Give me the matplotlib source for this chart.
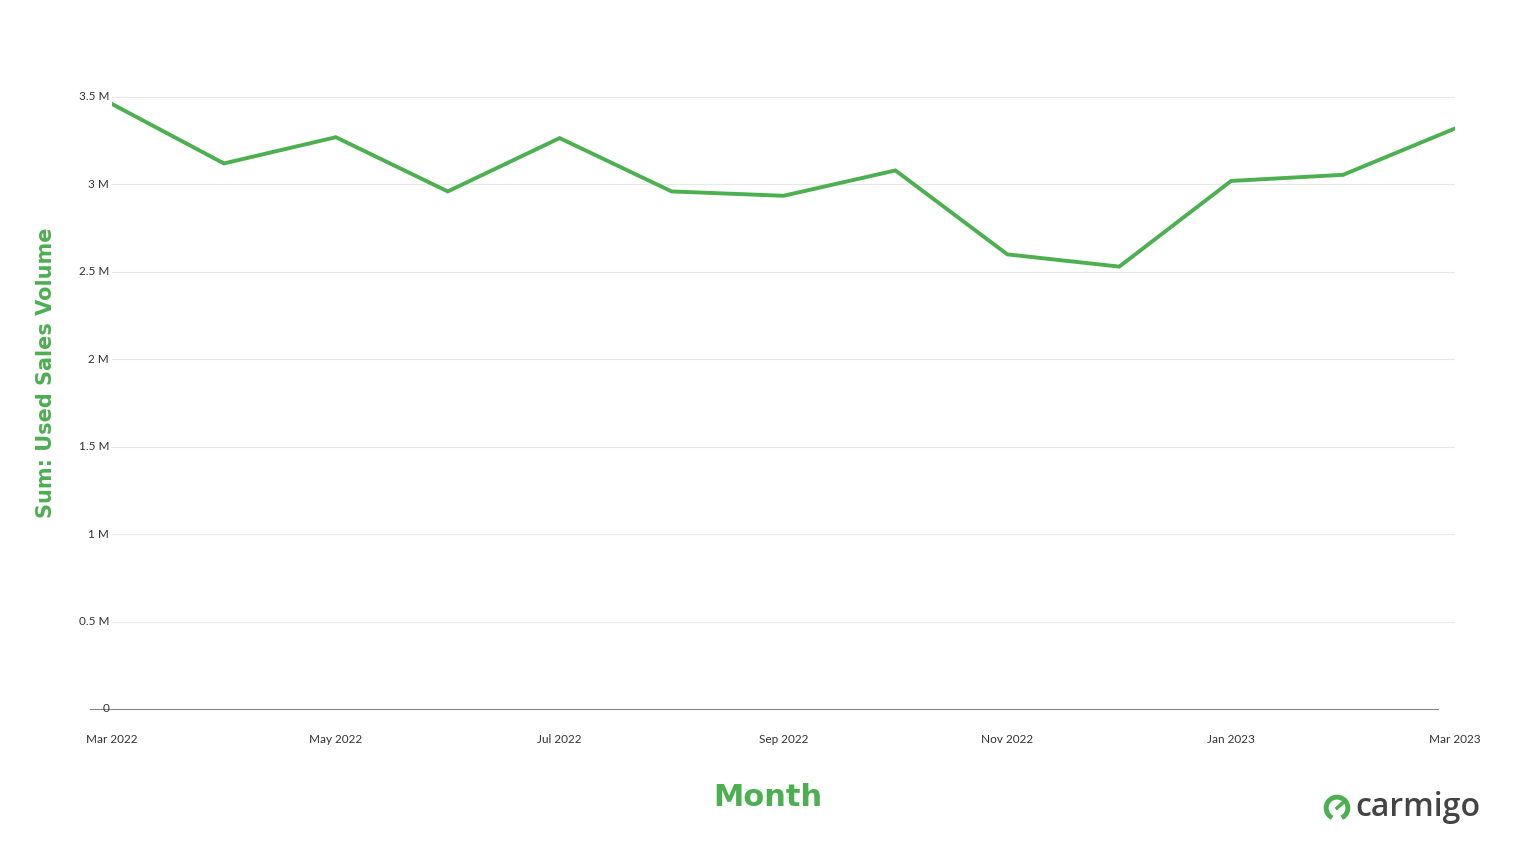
import matplotlib
matplotlib.use("Agg")
import matplotlib.pyplot as plt
from matplotlib.patches import Wedge

months = ["Mar 2022","Apr 2022","May 2022","Jun 2022","Jul 2022","Aug 2022","Sep 2022",
          "Oct 2022","Nov 2022","Dec 2022","Jan 2023","Feb 2023","Mar 2023"]
values = [3.46,3.12,3.27,2.96,3.265,2.96,2.935,3.08,2.60,2.53,3.02,3.055,3.32]
yticks = [0,0.5,1,1.5,2,2.5,3,3.5]
ylabels = ["0","0.5 M","1 M","1.5 M","2 M","2.5 M","3 M","3.5 M"]
green = "#4caf50"

fig = plt.figure(figsize=(15.36,8.64), dpi=100)
ax = fig.add_axes([112/1536, 1-709/864, (1455-112)/1536, (709-97)/864])
x = list(range(len(months)))
ax.plot(x, values, color=green, lw=2.8, solid_joinstyle="miter")
ax.set_xlim(0, 12)
ax.set_ylim(0, 3.5)
ax.set_yticks(yticks)
ax.set_yticklabels(ylabels, fontsize=8.5, color="#333333", family="Lato")
ax.set_xticks(x[::2])
ax.set_xticklabels(months[::2], fontsize=8.5, color="#333333", family="Lato")
ax.tick_params(axis="x", length=0, pad=18)
ax.tick_params(axis="y", length=0, pad=2)
for lab in ax.get_yticklabels():
    lab.set_verticalalignment("center")
ax.grid(axis="y", color="#e8e8e8", lw=0.8)
for s in ["top","right","left"]:
    ax.spines[s].set_visible(False)
ax.spines["bottom"].set_color("#888888")
ax.spines["bottom"].set_bounds(-0.2, 11.85)
ax.spines["bottom"].set_zorder(0)
ax.set_ylabel("Sum: Used Sales Volume", fontsize=15, fontweight="heavy", color=green)
ax.yaxis.set_label_coords(-0.042, 0.55)
fig.text(0.5, 1-797/864, "Month", fontsize=22, fontweight="bold", color=green, ha="center", va="center")
fig.text(1355/1536, 1-808/864, "carmigo", fontsize=23, fontweight="semibold", color="#444444",
         ha="left", va="center", family="Open Sans")
lax = fig.add_axes([1323/1536, 1-822/864, 28/1536, 28/864])
lax.set_xlim(-1,1); lax.set_ylim(-1,1); lax.set_aspect("equal"); lax.axis("off")
lax.add_patch(Wedge((0,0), 0.9, -60, 240, width=0.25, color=green))
lax.plot([0,0.45],[0,0.4], color=green, lw=2.5)
fig.savefig("out.png", dpi=100, facecolor="white")
